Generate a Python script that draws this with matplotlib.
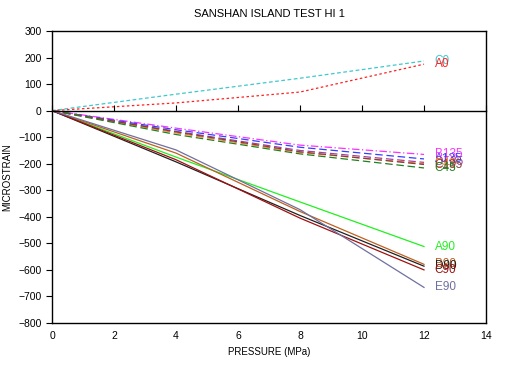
import matplotlib
matplotlib.use('Agg')
import matplotlib.pyplot as plt

plt.rcParams['font.family'] = ['Liberation Sans', 'DejaVu Sans']

pressure = [0, 4, 8, 12]

# gauges at 0 deg
c0 = [0, 62, 122, 187]
a0 = [0, 29, 70, 175]

# gauges at 45 / 135 deg
b135 = [0, -66, -130, -165]
a135 = [0, -72, -138, -182]
d135 = [0, -78, -150, -195]
e45 = [0, -84, -158, -200]
c135 = [0, -80, -155, -203]
c45 = [0, -90, -163, -216]

# gauges at 90 deg
a90 = [0, -175, -344, -512]
b90 = [0, -160, -380, -579]
d90 = [0, -193, -395, -586]
c90 = [0, -185, -405, -600]
e90 = [0, -148, -373, -666]

series = [
    ('C0', c0, '#40c8d0', (0, (3, 2))),
    ('A0', a0, '#ff2020', (0, (2, 2))),
    ('B135', b135, '#ff30ff', (0, (6, 2, 1, 2))),
    ('A135', a135, '#3040ff', (0, (6, 3))),
    ('D135', d135, '#a040a0', (0, (6, 3))),
    ('E45', e45, '#ff8030', (0, (6, 3))),
    ('C135', c135, '#804040', (0, (6, 3))),
    ('C45', c45, '#208020', (0, (6, 3))),
    ('A90', a90, '#20f020', '-'),
    ('B90', b90, '#c06020', '-'),
    ('D90', d90, '#202020', '-'),
    ('C90', c90, '#a01010', '-'),
    ('E90', e90, '#7070a0', '-'),
]

fig = plt.figure(figsize=(5.08, 3.68), dpi=100)
ax = fig.add_axes([0.1024, 0.1223, 0.8543, 0.7935])

for name, vals, color, ls in series:
    ax.plot(pressure, vals, color=color, linestyle=ls, linewidth=0.9)
    ax.text(pressure[-1] + 0.35, vals[-1], name, color=color, fontsize=8.5,
            va='center', ha='left')

ax.set_xlim(0, 14)
ax.set_ylim(-800, 300)
ax.set_xticks(range(0, 15, 2))
ax.set_yticks(range(-800, 301, 100))
ax.tick_params(axis='x', length=0, labelsize=7.5, pad=6)
ax.tick_params(axis='y', length=4, direction='out', labelsize=7.5, width=0.8)
for sp in ax.spines.values():
    sp.set_linewidth(1.0)

# zero line with tick marks
ax2 = ax.twiny()
ax2.set_xlim(ax.get_xlim())
ax2.set_xticks(range(0, 15, 2))
ax2.spines['bottom'].set_position(('data', 0))
ax2.spines['bottom'].set_linewidth(1.0)
for s in ['top', 'left', 'right']:
    ax2.spines[s].set_visible(False)
ax2.xaxis.set_ticks_position('bottom')
ax2.tick_params(axis='x', direction='in', length=4, width=0.8, labelbottom=False, labeltop=False)

ax.set_title('SANSHAN ISLAND TEST HI 1', fontsize=8, pad=10)
ax.set_xlabel('PRESSURE (MPa)', fontsize=7, labelpad=4)
ax.set_ylabel('MICROSTRAIN', fontsize=7, labelpad=4)

plt.savefig('out.png', dpi=100)
